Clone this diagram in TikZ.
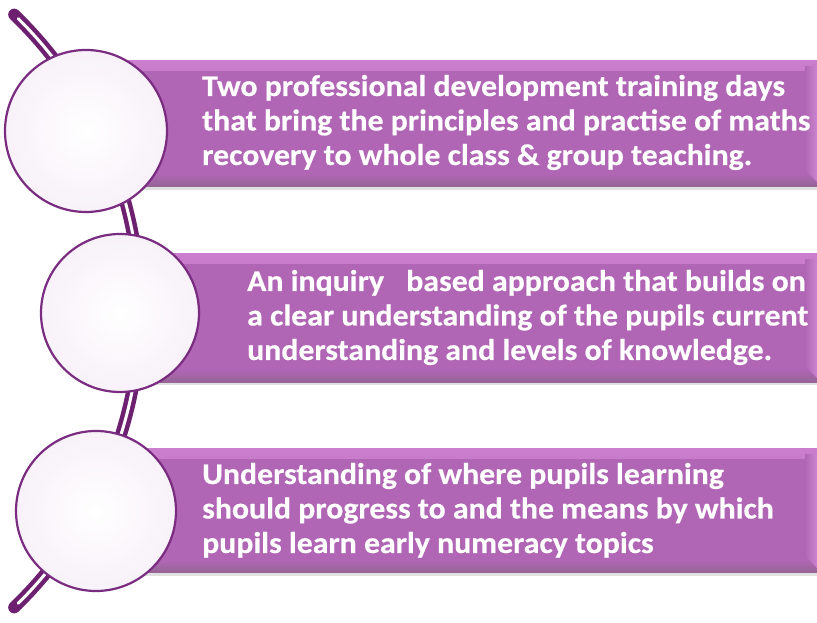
\documentclass[tikz,border=0pt]{standalone}
\usepackage{fontspec}
\setmainfont{Carlito}[FakeStretch=1.06,BoldFeatures={FakeBold=0.4}]
\definecolor{arcpurple}{HTML}{6D1F70}
\definecolor{cborder}{HTML}{7A2C80}
\definecolor{cfill}{HTML}{F8F1F9}
\definecolor{rmain}{HTML}{B066B4}
\definecolor{rtop}{HTML}{CB7ECD}
\definecolor{rbot}{HTML}{966596}
\definecolor{rright}{HTML}{CD85D0}
\begin{document}
\begin{tikzpicture}[x=1pt,y=1pt,
  arcouter/.style={draw=arcpurple,line width=12pt,line cap=round},
  arcinner/.style={draw=white,line width=3pt,line cap=round},
  rectbox/.style={rectangle,inner sep=0pt,anchor=north west,fill=rmain,
    path picture={
      \fill[top color=rtop,bottom color=rmain] (path picture bounding box.north west) rectangle ([yshift=-10pt]path picture bounding box.north east);
      \fill[top color=rmain,bottom color=rbot] ([yshift=12pt]path picture bounding box.south west) rectangle (path picture bounding box.south east);
      \fill[left color=rmain,right color=rright] ([xshift=-12pt,yshift=-6pt]path picture bounding box.north east) -- ([yshift=-6pt]path picture bounding box.north east) -- ([yshift=4pt]path picture bounding box.south east) -- ([xshift=-12pt,yshift=16pt]path picture bounding box.south east) -- cycle;
    }},
  shadowbox/.style={rectangle,inner sep=0pt,anchor=north west,fill=black!12},
  disc/.style={circle,inner sep=0pt,draw=cborder,line width=2.2pt,inner color=white,outer color=cfill},
  txt/.style={inner sep=0pt,anchor=base west,align=left,text=white,font=\fontsize{30}{34.5}\selectfont\bfseries}
]
\useasboundingbox (0,0) rectangle (817,623);
\fill[white] (0,0) rectangle (817,623);
% arc behind the circles
\coordinate (ctr) at (-272,312);
\draw[arcouter] ([shift={(46:412)}]ctr) arc[start angle=46,end angle=-46,radius=412];
\draw[arcinner] ([shift={(45.2:412)}]ctr) arc[start angle=45.2,end angle=-45.2,radius=412];
% shadows of bars
\node[shadowbox,minimum width=727pt,minimum height=126pt] (s1) at (90,559) {};
\node[shadowbox,minimum width=727pt,minimum height=129pt] (s2) at (120,367) {};
\node[shadowbox,minimum width=727pt,minimum height=124pt] (s3) at (96,171) {};
% bars
\node[rectbox,minimum width=727pt,minimum height=126pt] (r1) at (90,563) {};
\node[rectbox,minimum width=697pt,minimum height=129pt] (r2) at (120,370) {};
\node[rectbox,minimum width=721pt,minimum height=124pt] (r3) at (96,175) {};
% circles
\node[disc,minimum size=162pt] (c1) at (86,492) {};
\node[disc,minimum size=158pt] (c2) at (120,310) {};
\node[disc,minimum size=160pt] (c3) at (96,112) {};
% texts (anchored at the baseline of the last line)
\node[txt] (t1) at (202,458) {Two professional development training days\\that bring the principles and practise of maths\\recovery to whole class \& group teaching.};
\node[txt] (t2) at (247,263) {An inquiry\hspace{0.5em} based approach that builds on\\a clear understanding of the pupils current\\understanding and levels of knowledge.};
\node[txt] (t3) at (202,70) {Understanding of where pupils learning\\should progress to and the means by which\\pupils learn early numeracy topics};
\end{tikzpicture}
\end{document}
